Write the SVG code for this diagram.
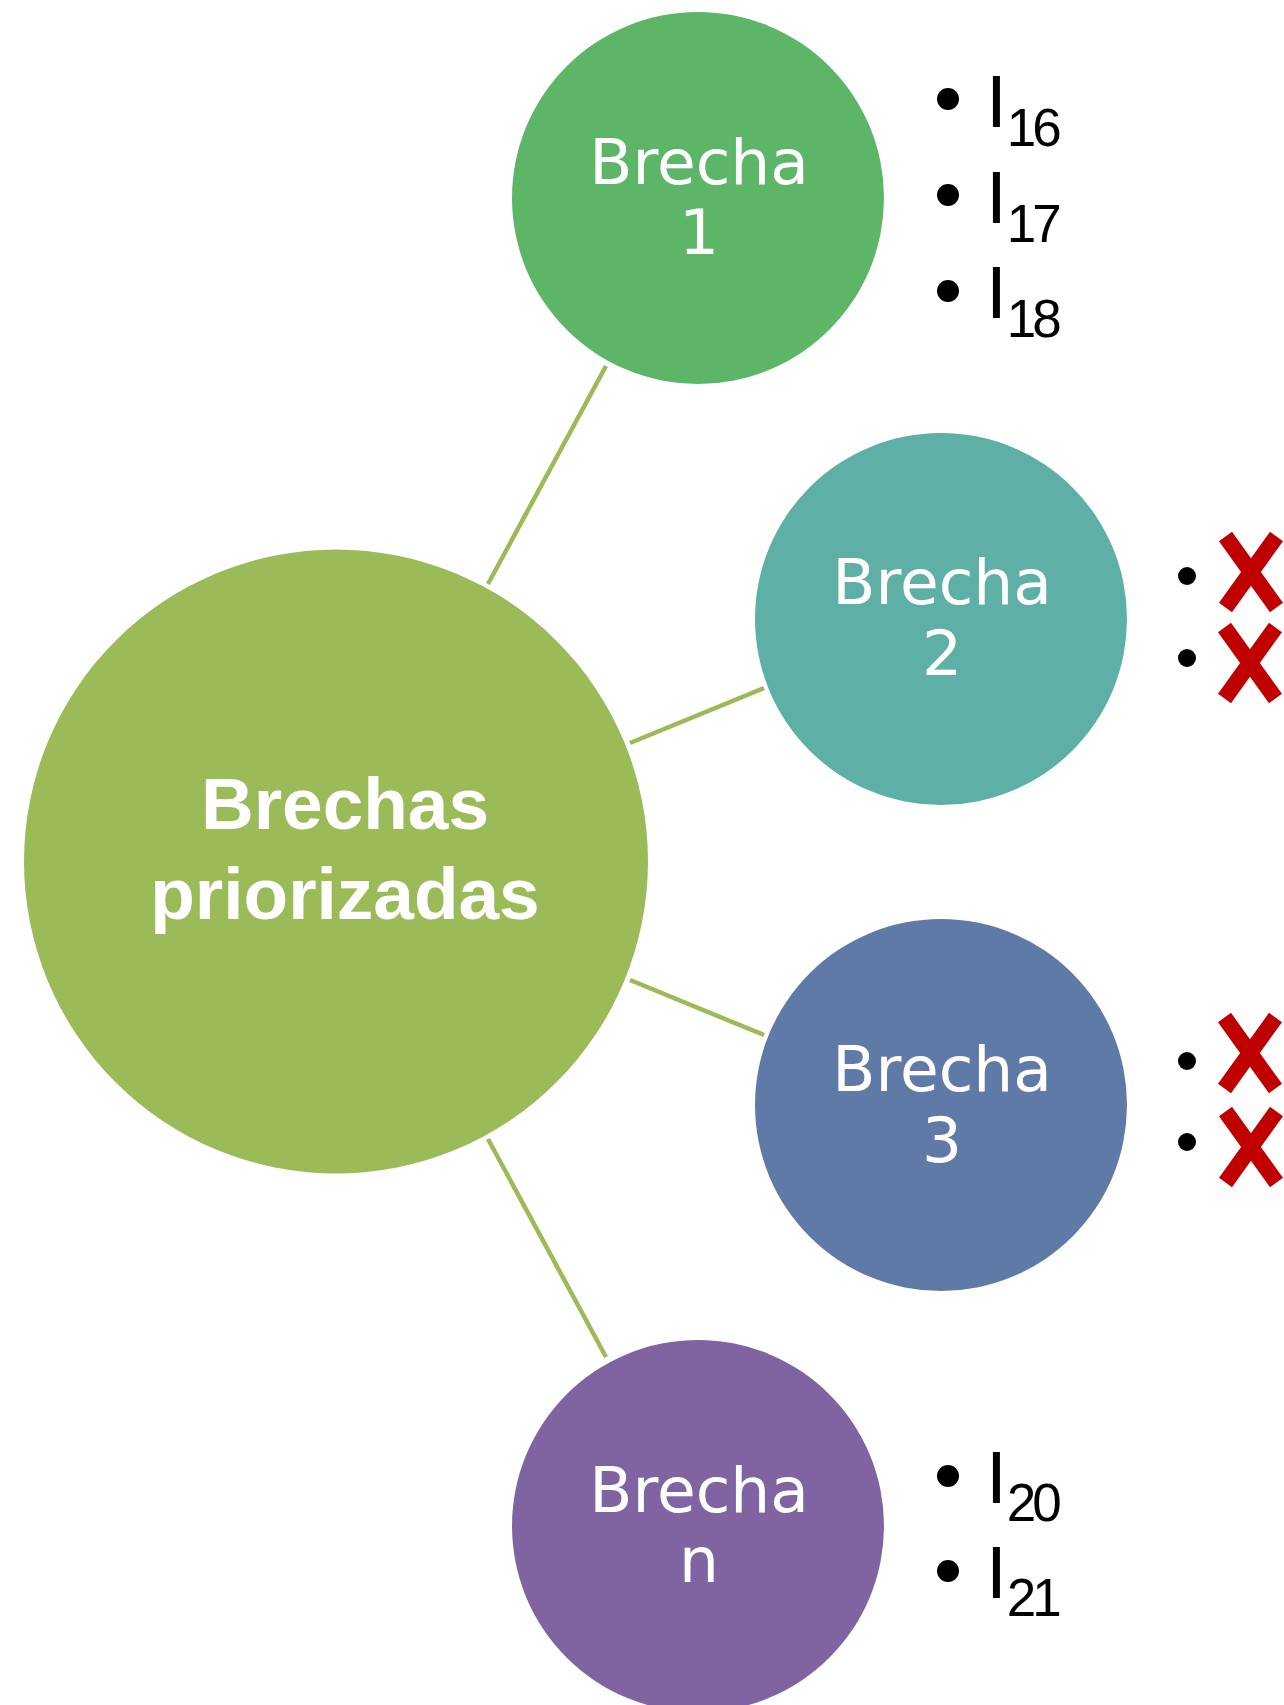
<svg xmlns="http://www.w3.org/2000/svg" xmlns:xlink="http://www.w3.org/1999/xlink" width="1284" height="1705" viewBox="0 0 1284 1705">
<style>
.conn{stroke:#9BBB59;stroke-width:4.5;fill:none}
.lbl{font-family:"DejaVu Sans","Liberation Sans",sans-serif;font-size:63px;fill:#FFFFFF;text-anchor:middle}
.main{font-family:"Liberation Sans",Arial,sans-serif;font-weight:bold;font-size:73px;fill:#FFFFFF;text-anchor:middle}
.item{font-family:"Liberation Sans",Arial,sans-serif;font-size:75px;fill:#000000}
.sub{font-size:53px;letter-spacing:-4px}
.dot{fill:#000000}
.xm{stroke:#C00000;stroke-width:16;stroke-linecap:butt;fill:none}
</style>
<defs>
<g id="xmark">
<line class="xm" x1="-25.5" y1="-35.5" x2="25.5" y2="35.5"/>
<line class="xm" x1="25.5" y1="-35.5" x2="-25.5" y2="35.5"/>
</g>
</defs>
<rect x="0" y="0" width="1284" height="1705" fill="#FFFFFF"/>
<g id="connectors">
<line class="conn" x1="488" y1="584" x2="606" y2="366"/>
<line class="conn" x1="630" y1="743" x2="764" y2="688"/>
<line class="conn" x1="630" y1="980" x2="764" y2="1035"/>
<line class="conn" x1="488" y1="1139" x2="606" y2="1357"/>
</g>
<g id="node-center">
<circle cx="336" cy="861.5" r="312" fill="#9BBB59"/>
<text class="main" x="345" y="829">Brechas</text>
<text class="main" x="345" y="919">priorizadas</text>
</g>
<g id="node-brecha1">
<circle cx="698" cy="198" r="186" fill="#5DB668"/>
<text class="lbl" x="699" y="184">Brecha</text>
<text class="lbl" x="699" y="254">1</text>
</g>
<g id="node-brecha2">
<circle cx="941" cy="619" r="186" fill="#5EAFA6"/>
<text class="lbl" x="942" y="604">Brecha</text>
<text class="lbl" x="942" y="675">2</text>
</g>
<g id="node-brecha3">
<circle cx="941" cy="1105" r="186" fill="#607AA8"/>
<text class="lbl" x="942" y="1091">Brecha</text>
<text class="lbl" x="942" y="1162">3</text>
</g>
<g id="node-brechan">
<circle cx="698" cy="1526" r="186" fill="#8064A2"/>
<text class="lbl" x="699" y="1512">Brecha</text>
<text class="lbl" x="699" y="1582">n</text>
</g>
<g id="list-brecha1">
<circle class="dot" cx="948" cy="99" r="11"/>
<circle class="dot" cx="948" cy="195" r="11"/>
<circle class="dot" cx="948" cy="291" r="11"/>
<text class="item" x="986" y="127">I<tspan class="sub" dy="19">16</tspan></text>
<text class="item" x="986" y="223">I<tspan class="sub" dy="19">17</tspan></text>
<text class="item" x="986" y="318">I<tspan class="sub" dy="19">18</tspan></text>
</g>
<g id="list-brecha2">
<circle class="dot" cx="1187" cy="576" r="9"/>
<circle class="dot" cx="1187" cy="658" r="9"/>
<use xlink:href="#xmark" x="1251" y="572"/>
<use xlink:href="#xmark" x="1250" y="663"/>
</g>
<g id="list-brecha3">
<circle class="dot" cx="1187" cy="1061" r="9"/>
<circle class="dot" cx="1187" cy="1142" r="9"/>
<use xlink:href="#xmark" x="1250" y="1053"/>
<use xlink:href="#xmark" x="1251" y="1147"/>
</g>
<g id="list-brechan">
<circle class="dot" cx="948" cy="1476" r="11"/>
<circle class="dot" cx="948" cy="1571" r="11"/>
<text class="item" x="986" y="1503">I<tspan class="sub" dy="18">20</tspan></text>
<text class="item" x="986" y="1598">I<tspan class="sub" dy="18">21</tspan></text>
</g>
</svg>
